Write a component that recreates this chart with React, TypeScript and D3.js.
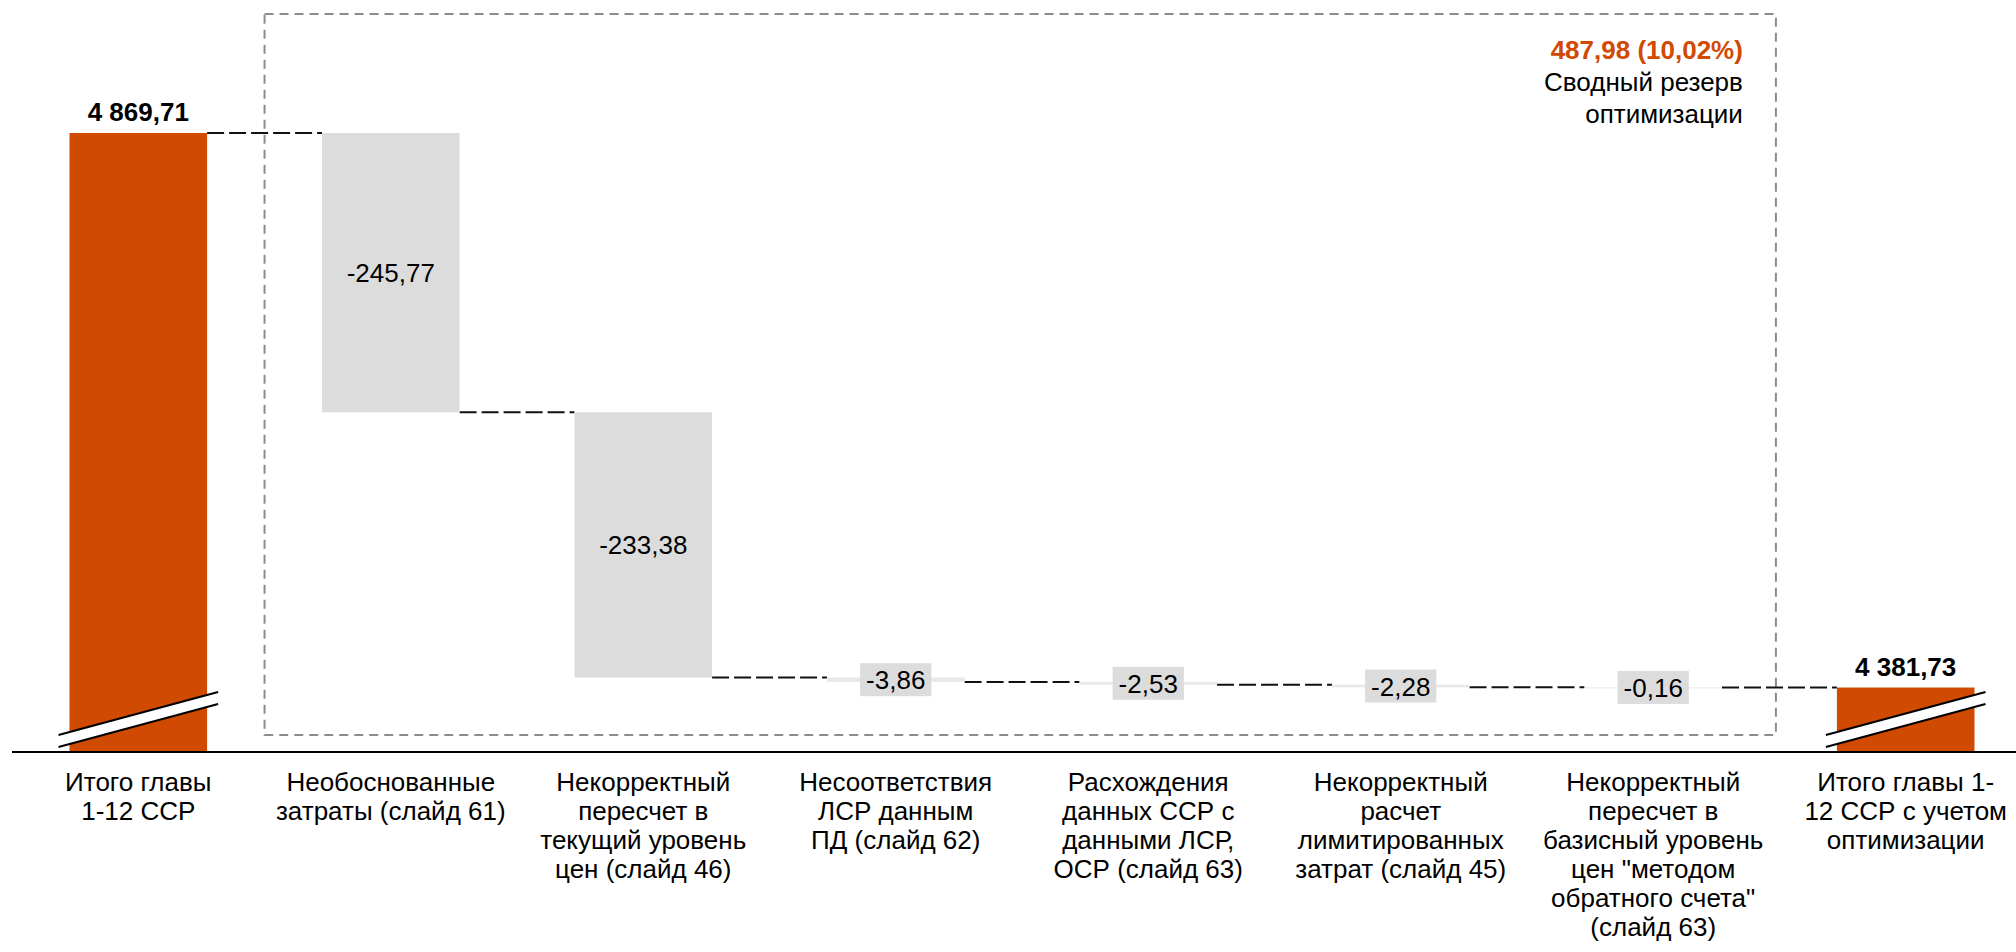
import React from 'react';
import * as d3 from 'd3';

// category labels, split into lines as on the slide
const categories: string[][] = [
  ['Итого главы', '1-12 ССР'],
  ['Необоснованные', 'затраты (слайд 61)'],
  ['Некорректный', 'пересчет в', 'текущий уровень', 'цен (слайд 46)'],
  ['Несоответствия', 'ЛСР данным', 'ПД (слайд 62)'],
  ['Расхождения', 'данных ССР с', 'данными ЛСР,', 'ОСР (слайд 63)'],
  ['Некорректный', 'расчет', 'лимитированных', 'затрат (слайд 45)'],
  ['Некорректный', 'пересчет в', 'базисный уровень', 'цен "методом', 'обратного счета"', '(слайд 63)'],
  ['Итого главы 1-', '12 ССР с учетом', 'оптимизации'],
];

const startTotal = 4869.71;
const deltas = [-245.77, -233.38, -3.86, -2.53, -2.28, -0.16];
const endTotal = 4381.73;
const axisMin = 4325; // broken axis base

const reserveTitle = '487,98 (10,02%)';
const reserveText = ['Сводный резерв', 'оптимизации'];

const W = 2016;
const H = 952;
const ORANGE = '#D04A02';
const GREY = '#dcdcdc';
const FONT = '"Liberation Sans", Arial, sans-serif';

const ru = d3.formatLocale({
  decimal: ',',
  thousands: ' ',
  grouping: [3],
  currency: ['', ''],
  minus: '-',
} as any);
const fmt = ru.format(',.2f');

const charW = (s: string) =>
  d3.sum(s.split(''), (c) => (c === '-' ? 0.333 : c === ',' || c === ' ' ? 0.278 : 0.556));

export default function App() {
  const baseY = 752;
  const x = d3
    .scaleBand<number>()
    .domain(d3.range(categories.length))
    .range([69.5, 1974.5])
    .paddingInner(0.455)
    .paddingOuter(0);
  const y = d3.scaleLinear().domain([axisMin, startTotal]).range([baseY, 133]);
  const bw = x.bandwidth();

  // running totals for the floating bars
  const steps: { i: number; from: number; to: number; v: number }[] = [];
  let run = startTotal;
  deltas.forEach((d, k) => {
    steps.push({ i: k + 1, from: run, to: run + d, v: d });
    run += d;
  });
  const totals = [
    { i: 0, v: startTotal },
    { i: categories.length - 1, v: endTotal },
  ];
  const levels = [startTotal, ...steps.map((s) => s.to)];

  const boxLeft = (x(0)! + bw + x(1)!) / 2;
  const boxRight = x(categories.length - 1)! - 61;

  return (
    <svg
      width={W}
      height={H}
      style={{ position: 'absolute', left: 0, top: 0, background: '#fff' }}
      fontFamily={FONT}
    >
      {/* dashed reserve box */}
      <rect
        x={boxLeft}
        y={14}
        width={boxRight - boxLeft}
        height={735 - 14}
        fill="none"
        stroke="#8c8c8c"
        strokeWidth={2}
        strokeDasharray="9,6"
      />
      <text x={boxRight - 33} y={59} textAnchor="end" fontSize={26} fontWeight="bold" fill={ORANGE}>
        {reserveTitle}
      </text>
      {reserveText.map((t, k) => (
        <text key={k} x={boxRight - 33} y={91 + k * 32} textAnchor="end" fontSize={26} fill="#000">
          {t}
        </text>
      ))}

      {/* connectors */}
      {levels.map((lv, k) => (
        <line
          key={k}
          x1={x(k)! + bw}
          x2={x(k + 1)!}
          y1={y(lv)}
          y2={y(lv)}
          stroke="#111"
          strokeWidth={2}
          strokeDasharray="17,5"
        />
      ))}

      {/* floating bars */}
      {steps.map((s) => {
        const y0 = y(s.from);
        const y1 = y(s.to);
        const h = Math.max(y1 - y0, 1);
        const cx = x(s.i)! + bw / 2;
        const cy = (y0 + y1) / 2;
        const label = fmt(s.v);
        const tw = charW(label) * 26;
        return (
          <g key={s.i}>
            <rect x={x(s.i)} y={y0} width={bw} height={h} fill={h < 30 ? '#e8e8e8' : GREY} />
            {h < 30 && <rect x={cx - tw / 2 - 6} y={cy - 16.5} width={tw + 12} height={33} fill={GREY} />}
            <text x={cx} y={cy + 9.5} textAnchor="middle" fontSize={26} fill="#000">
              {label}
            </text>
          </g>
        );
      })}

      {/* total bars with break marks */}
      {totals.map((t) => {
        const x0 = x(t.i)!;
        const top = y(t.v);
        const l = x0 - 11;
        const r = x0 + bw + 11;
        return (
          <g key={t.i}>
            <rect x={x0} y={top} width={bw} height={baseY - top} fill={ORANGE} />
            <polygon
              points={`${l},${baseY - 17} ${r},${baseY - 60} ${r},${baseY - 48} ${l},${baseY - 5}`}
              fill="#fff"
            />
            <line x1={l} y1={baseY - 17} x2={r} y2={baseY - 60} stroke="#000" strokeWidth={2} />
            <line x1={l} y1={baseY - 5} x2={r} y2={baseY - 48} stroke="#000" strokeWidth={2} />
            <text
              x={x0 + bw / 2}
              y={top - 12}
              textAnchor="middle"
              fontSize={26}
              fontWeight="bold"
              fill="#000"
            >
              {fmt(t.v)}
            </text>
          </g>
        );
      })}

      {/* axis line */}
      <line x1={12} x2={W} y1={baseY} y2={baseY} stroke="#000" strokeWidth={2} />

      {/* category labels */}
      {categories.map((lines, i) => (
        <text key={i} x={x(i)! + bw / 2} textAnchor="middle" fontSize={26} fill="#000">
          {lines.map((ln, k) => (
            <tspan key={k} x={x(i)! + bw / 2} y={791 + k * 29}>
              {ln}
            </tspan>
          ))}
        </text>
      ))}
    </svg>
  );
}
